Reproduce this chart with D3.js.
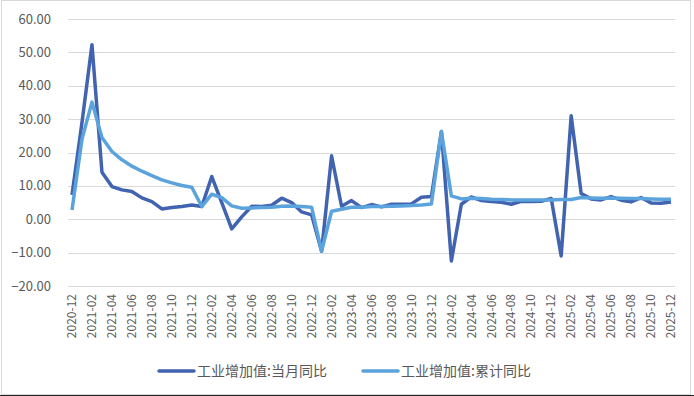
<!DOCTYPE html>
<html>
<head>
<meta charset="utf-8">
<script src="https://cdn.jsdelivr.net/npm/d3@7"></script>
<style>
  body { margin: 0; background: #fff; }
  text { font-family: "Noto Sans CJK SC", "Noto Sans", sans-serif; fill: #595959; }
</style>
</head>
<body>
<div id="chart"></div>
<script>
// months 2020-12 .. 2025-12
var months = [];
for (var i = 0; i < 61; i++) {
  var yr = 2020 + Math.floor((11 + i) / 12), mo = (11 + i) % 12 + 1;
  months.push(yr + "-" + (mo < 10 ? "0" + mo : mo));
}

var monthlyYoY = [7.3, 29.0, 52.3, 14.1, 9.8, 8.8, 8.3, 6.4, 5.3, 3.1, 3.5, 3.8, 4.3,
  3.8, 12.8, 5.0, -2.9, 0.7, 3.9, 3.8, 4.2, 6.3, 5.0, 2.2, 1.3,
  -9.6, 19.0, 3.9, 5.6, 3.5, 4.4, 3.7, 4.5, 4.5, 4.6, 6.6, 6.8,
  26.3, -12.5, 4.5, 6.7, 5.6, 5.3, 5.1, 4.5, 5.4, 5.3, 5.4, 6.2,
  -11.0, 31.0, 7.7, 6.1, 5.8, 6.8, 5.7, 5.2, 6.5, 4.9, 4.8, 5.2];

var cumulativeYoY = [2.8, 24.0, 35.1, 24.5, 20.3, 17.8, 15.9, 14.4, 13.1, 11.8, 10.9, 10.1, 9.6,
  3.8, 7.5, 6.5, 4.0, 3.3, 3.4, 3.5, 3.6, 3.9, 4.0, 3.8, 3.6,
  -9.6, 2.4, 3.0, 3.6, 3.6, 3.8, 3.8, 3.9, 4.0, 4.1, 4.3, 4.6,
  26.3, 7.0, 6.1, 6.3, 6.2, 6.0, 5.9, 5.8, 5.8, 5.8, 5.8, 5.8,
  5.9, 5.9, 6.5, 6.4, 6.3, 6.4, 6.3, 6.2, 6.2, 6.1, 6.0, 6.0];

var yTicks = [-20, -10, 0, 10, 20, 30, 40, 50, 60];
var seriesNames = ["工业增加值:当月同比", "工业增加值:累计同比"];
var seriesColors = ["#4163b0", "#5ba3dc"];

var W = 694, H = 396;
var svg = d3.select("#chart").append("svg")
  .attr("width", W)
  .attr("height", H);

// outer frame
svg.append("rect")
  .attr("x", 1.5).attr("y", 0.5)
  .attr("width", 689).attr("height", 394)
  .attr("fill", "white")
  .attr("stroke", "#d9d9d9");
svg.append("line")
  .attr("x1", 0).attr("x2", W)
  .attr("y1", 395.5).attr("y2", 395.5)
  .style("stroke", "#222");

var x = d3.scalePoint().domain(months).range([72, 671]);
var y = d3.scaleLinear().domain([-20, 60]).range([286, 19]);

// horizontal grid
svg.append("g").selectAll("line")
  .data(yTicks)
  .enter().append("line")
  .attr("x1", 68).attr("x2", 675)
  .attr("y1", function (d) { return Math.round(y(d)) + 0.5; })
  .attr("y2", function (d) { return Math.round(y(d)) + 0.5; })
  .style("stroke", "#d9d9d9")
  .style("stroke-width", 1);

// y labels
svg.append("g").selectAll("text")
  .data(yTicks)
  .enter().append("text")
  .attr("x", 51)
  .attr("y", function (d) { return y(d); })
  .attr("dy", "0.35em")
  .attr("text-anchor", "end")
  .style("font-size", "13px")
  .text(d3.format(".2f"));

// x labels, every other month
svg.append("g").selectAll("text")
  .data(months.filter(function (d, i) { return i % 2 === 0; }))
  .enter().append("text")
  .attr("transform", function (d) { return "translate(" + x(d) + ",294) rotate(-90)"; })
  .attr("dy", "0.35em")
  .attr("text-anchor", "end")
  .style("font-size", "12px")
  .text(function (d) { return d; });

var line = d3.line()
  .x(function (d, i) { return x(months[i]); })
  .y(function (d) { return y(d); });

// monthly first, cumulative drawn on top
[monthlyYoY, cumulativeYoY].forEach(function (s, k) {
  svg.append("path")
    .datum(s)
    .attr("d", line)
    .attr("fill", "none")
    .attr("stroke", seriesColors[k])
    .attr("stroke-width", 3.5)
    .attr("stroke-linejoin", "round");
});

// legend
var legendX = [159, 363];
var lg = svg.append("g").selectAll("g")
  .data(seriesNames)
  .enter().append("g")
  .attr("transform", function (d, i) { return "translate(" + legendX[i] + ",371)"; });
lg.append("line")
  .attr("x1", 0).attr("x2", 35)
  .attr("stroke", function (d, i) { return seriesColors[i]; })
  .attr("stroke-width", 3.5)
  .attr("stroke-linecap", "round");
lg.append("text")
  .attr("x", 38)
  .attr("dy", "0.35em")
  .style("font-size", "14px")
  .text(function (d) { return d; });
</script>
</body>
</html>
